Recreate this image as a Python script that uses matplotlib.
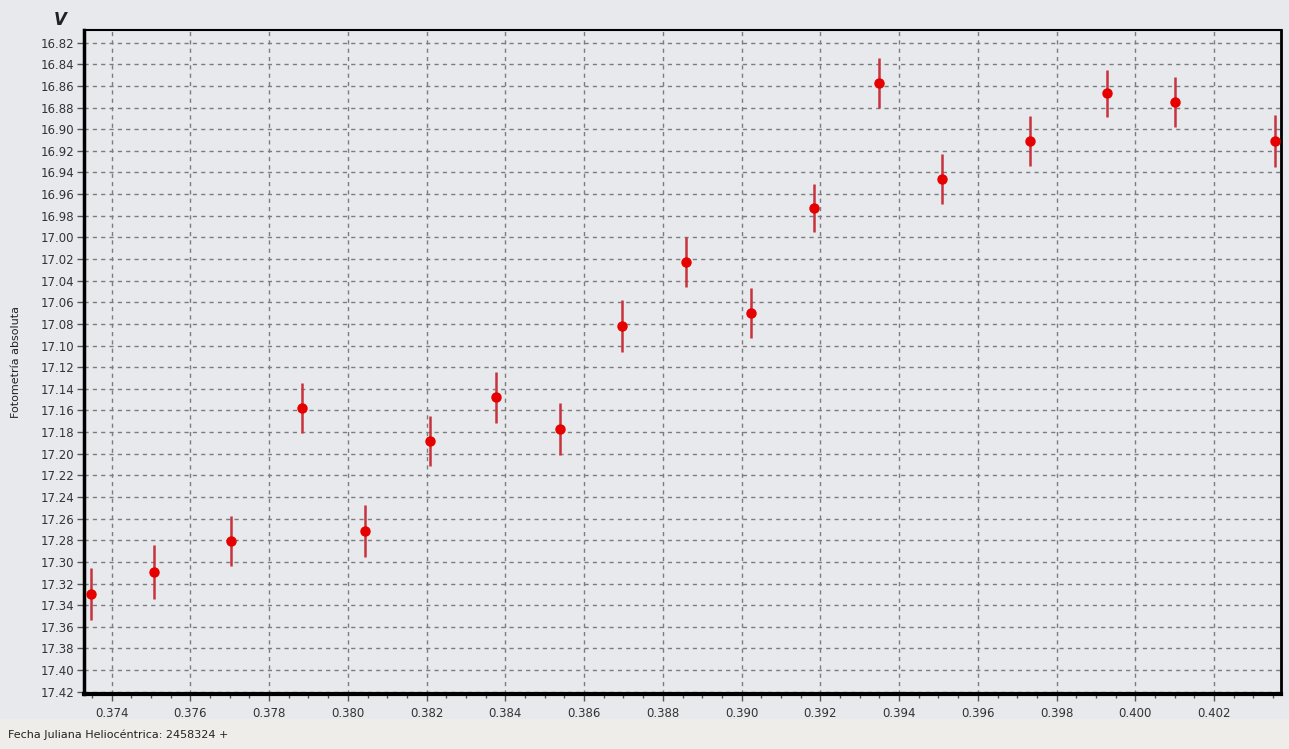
import matplotlib
matplotlib.use('Agg')
import matplotlib.pyplot as plt
from matplotlib.ticker import MultipleLocator, FormatStrFormatter
from matplotlib.patches import Rectangle

# heliocentric JD - 2458324
hjd = [0.37348, 0.37507, 0.37704, 0.37883, 0.38044, 0.38208, 0.38376, 0.38538, 0.38697,
       0.38858, 0.39023, 0.39184, 0.39348, 0.39509, 0.39732, 0.39929, 0.40100, 0.40356]
mag = [17.330, 17.309, 17.281, 17.158, 17.271, 17.188, 17.148, 17.177, 17.082,
       17.023, 17.070, 16.973, 16.857, 16.946, 16.911, 16.867, 16.875, 16.911]
err = [0.024, 0.025, 0.023, 0.023, 0.024, 0.023, 0.024, 0.024, 0.024,
       0.023, 0.023, 0.022, 0.023, 0.023, 0.023, 0.022, 0.023, 0.024]

bg = '#e8e9ed'
fig = plt.figure(figsize=(12.89, 7.49), dpi=100, facecolor=bg)
fig.patches.append(Rectangle((0, 0), 1, 0.04, transform=fig.transFigure,
                             facecolor='#efede9', edgecolor='none', zorder=-1))
ax = fig.add_axes([0.0652, 0.0734, 0.9286, 0.8866])
ax.set_facecolor(bg)

ax.errorbar(hjd, mag, yerr=err, fmt='o', color='#e60000', ecolor='#c8323c',
            elinewidth=1.8, markersize=6.5, capsize=0, zorder=3)

ax.set_xlim(0.37330, 0.40370)
ax.set_ylim(17.4221, 16.8083)

ax.xaxis.set_major_locator(MultipleLocator(0.002))
ax.xaxis.set_minor_locator(MultipleLocator(0.0005))
ax.yaxis.set_major_locator(MultipleLocator(0.02))
ax.xaxis.set_major_formatter(FormatStrFormatter('%.3f'))
ax.yaxis.set_major_formatter(FormatStrFormatter('%.2f'))

ax.grid(True, which='major', color='#7c7c7c', linestyle=(0, (3, 3)), linewidth=1.0)
ax.tick_params(axis='both', which='major', direction='out', length=5, width=1,
               color='#555555', labelsize=8.5, labelcolor='#333333', pad=2)
ax.tick_params(axis='x', which='minor', direction='out', length=3, width=1, color='#555555')
ax.tick_params(axis='x', which='major', pad=4)

for side, lw in [('left', 2.5), ('bottom', 3), ('top', 1.5), ('right', 2)]:
    ax.spines[side].set_linewidth(lw)
    ax.spines[side].set_color('black')

ax.set_ylabel('Fotometría absoluta', fontsize=8, color='#222222', labelpad=14)
fig.text(0.047, 0.973, 'V', fontsize=12, fontweight='bold', style='italic',
         ha='center', va='center', color='#222222')
fig.text(0.006, 0.012, 'Fecha Juliana Heliocéntrica: 2458324 +', fontsize=8,
         ha='left', va='bottom', color='#222222')

fig.savefig('out.png', dpi=100, facecolor=fig.get_facecolor())
